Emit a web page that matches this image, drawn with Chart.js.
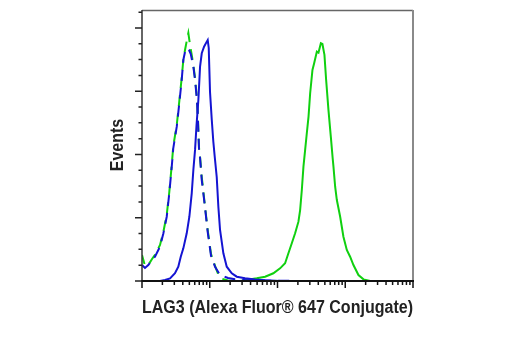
<!DOCTYPE html>
<html>
<head>
<meta charset="utf-8">
<script src="https://cdn.jsdelivr.net/npm/chart.js@4.4.0/dist/chart.umd.min.js"></script>
<style>
  body { margin: 0; background: #fff; }
  canvas { display: block; }
</style>
</head>
<body>
<canvas id="chart" width="520" height="350"></canvas>
<script>
// x is in decades of fluorescence (log10), y is events
var isoBlueX = [0, 0.044, 0.093, 0.148, 0.192, 0.266, 0.315, 0.365, 0.403, 0.439, 0.462, 0.513, 0.551, 0.586, 0.610, 0.635, 0.665, 0.694, 0.719, 0.758, 0.783, 0.808, 0.823, 0.832, 0.842, 0.857, 0.882, 0.931, 0.970, 1.019, 1.078, 1.152, 1.270, 1.373, 1.521, 1.743, 2.334, 4]
var isoBlueY = [12.6, 10.3, 12.6, 16.6, 19.2, 27.2, 37.5, 50.8, 69.4, 90.4, 105.1, 122.0, 140.7, 158.9, 174.7, 181.1, 184.2, 182.6, 179.5, 169.4, 158.9, 144.8, 131.3, 117.9, 103.5, 97.2, 79.8, 57.7, 38.7, 19.8, 11.3, 4.7, 2.4, 1.3, 0.8, 0.4, 0, 0]

var isoGreenX = [0, 0.044, 0.093, 0.148, 0.192, 0.266, 0.315, 0.365, 0.403, 0.439, 0.462, 0.513, 0.551, 0.586, 0.610, 0.635, 0.660, 0.684, 0.709, 0.734, 0.758, 0.783, 0.808, 0.823, 0.832, 0.842, 0.857, 0.882, 0.931, 0.970, 1.019, 1.078, 1.123, 1.182, 1.270, 1.448, 4]
var isoGreenY = [20.6, 11.9, 12.6, 17.4, 20.6, 28.5, 38.7, 52.2, 70.4, 91.7, 106.7, 123.3, 142.3, 160.5, 174.7, 182.6, 189.7, 196.0, 186.6, 178.7, 170.7, 160.5, 146.2, 132.8, 119.4, 105.1, 98.0, 82.2, 58.5, 40.3, 21.3, 11.9, 5.5, 1.6, 0.4, 0, 0]

var lag3BlueX = [0, 0.266, 0.340, 0.414, 0.487, 0.536, 0.572, 0.610, 0.660, 0.699, 0.734, 0.758, 0.783, 0.805, 0.832, 0.857, 0.882, 0.916, 0.956, 0.970, 0.985, 1.004, 1.030, 1.053, 1.071, 1.103, 1.127, 1.152, 1.201, 1.251, 1.325, 1.399, 1.521, 1.669, 1.817, 2.038, 4]
var lag3BlueY = [0, 0, 0.8, 2.1, 6.1, 11.3, 19.2, 25.8, 37.7, 50.8, 69.3, 87.7, 103.6, 123.3, 143.1, 169.4, 180.0, 185.2, 189.2, 190.5, 184.2, 149.4, 127.3, 110.1, 99.6, 82.2, 58.7, 40.3, 21.9, 11.3, 6.1, 3.4, 2.1, 1.2, 0.6, 0, 0]

var lag3GreenX = [0, 1.448, 1.694, 1.817, 1.939, 2.038, 2.112, 2.161, 2.211, 2.260, 2.309, 2.334, 2.359, 2.383, 2.408, 2.430, 2.458, 2.482, 2.516, 2.541, 2.581, 2.605, 2.640, 2.663, 2.693, 2.718, 2.752, 2.787, 2.814, 2.826, 2.851, 2.876, 2.925, 2.973, 3.023, 3.072, 3.121, 3.195, 3.269, 3.368, 4]
var lag3GreenY = [0, 0, 2.1, 3.4, 6.1, 10.0, 14.0, 21.9, 29.8, 37.7, 46.9, 56.1, 71.9, 90.4, 103.6, 115.4, 129.9, 148.4, 166.8, 172.1, 181.3, 180.5, 187.9, 187.3, 178.7, 158.9, 135.2, 114.1, 97.2, 90.4, 74.5, 64.0, 50.8, 35.0, 24.5, 19.2, 12.6, 4.7, 1.3, 0, 0]

var xMajorTicks = [0, 1, 2, 3, 4]
var yMajorTicks = [0, 50, 100, 150, 200]
var yMinorStep = 12.5
var xTitle = 'LAG3 (Alexa Fluor® 647 Conjugate)'
var yTitle = 'Events'

var blue = '#1414d2'
var green = '#10d010'

function toPoints(xs, ys) {
    var pts = []
    for (var i = 0; i < xs.length; i++) {
        pts.push({ x: xs[i], y: ys[i] })
    }
    return pts
}

function xMinorTicks() {
    var t = []
    for (var d = 0; d < 4; d++) {
        for (var k = 2; k <= 9; k++) { t.push(d + Math.log10(k)) }
    }
    return t
}

var frame = {
    id: 'frame',
    afterDatasetsDraw(chart) {
        var ctx = chart.ctx
        var a = chart.chartArea
        var xs = chart.scales.x
        var ys = chart.scales.y
        ctx.save()

        // top and right border, grey
        ctx.strokeStyle = '#666'
        ctx.lineWidth = 1.5
        ctx.beginPath()
        ctx.moveTo(a.left, a.top + 0.5)
        ctx.lineTo(a.right, a.top + 0.5)
        ctx.stroke()
        ctx.strokeStyle = '#8a8a8a'
        ctx.lineWidth = 2
        ctx.beginPath()
        ctx.moveTo(a.right, a.top)
        ctx.lineTo(a.right, a.bottom)
        ctx.stroke()

        // left and bottom axis
        ctx.strokeStyle = '#333'
        ctx.lineWidth = 1.5
        ctx.beginPath()
        ctx.moveTo(a.left, a.top)
        ctx.lineTo(a.left, a.bottom)
        ctx.stroke()
        ctx.strokeStyle = '#111'
        ctx.lineWidth = 2
        ctx.beginPath()
        ctx.moveTo(a.left - 1, a.bottom)
        ctx.lineTo(a.right + 1, a.bottom)
        ctx.stroke()

        // x ticks, pointing down
        ctx.lineWidth = 1.5
        ctx.strokeStyle = '#111'
        ctx.beginPath()
        xMajorTicks.forEach(function (v) {
            var p = xs.getPixelForValue(v)
            ctx.moveTo(p, a.bottom); ctx.lineTo(p, a.bottom + 7)
        })
        xMinorTicks().forEach(function (v) {
            var p = xs.getPixelForValue(v)
            ctx.moveTo(p, a.bottom); ctx.lineTo(p, a.bottom + 4)
        })
        ctx.stroke()

        // y ticks, pointing left
        ctx.strokeStyle = '#222'
        ctx.lineWidth = 1.5
        ctx.beginPath()
        for (var v = 0; v <= ys.max; v += yMinorStep) {
            var p = ys.getPixelForValue(v)
            var len = yMajorTicks.indexOf(v) >= 0 ? 7 : 3.5
            ctx.moveTo(a.left, p); ctx.lineTo(a.left - len, p)
        }
        ctx.stroke()

        // titles: no narrow font installed, so squeeze the bold sans to the plot width
        ctx.fillStyle = '#222'
        ctx.font = 'bold 18px "Liberation Sans", Arial, sans-serif'
        ctx.textAlign = 'center'
        ctx.textBaseline = 'alphabetic'
        var squeeze = (a.right - a.left) / ctx.measureText(xTitle).width
        ctx.save()
        ctx.translate((a.left + a.right) / 2, 313)
        ctx.scale(squeeze, 1)
        ctx.fillText(xTitle, 0, 0)
        ctx.restore()
        ctx.translate(123, 145)
        ctx.rotate(-Math.PI / 2)
        ctx.scale(squeeze, 1)
        ctx.fillText(yTitle, 0, 0)
        ctx.restore()
    }
}

function loadChart() {
    var ctx = document.getElementById('chart').getContext('2d')
    var lineBase = { pointRadius: 0, borderWidth: 2, tension: 0, fill: false }
    new Chart(ctx, {
        type: 'line',
        data: {
            datasets: [
                Object.assign({ label: 'LAG3 blue', data: toPoints(lag3BlueX, lag3BlueY), borderColor: blue, order: 0 }, lineBase),
                Object.assign({ label: 'Isotype blue', data: toPoints(isoBlueX, isoBlueY), borderColor: blue, borderDash: [11, 7], order: 1 }, lineBase),
                Object.assign({ label: 'Isotype green', data: toPoints(isoGreenX, isoGreenY), borderColor: green, borderDash: [11, 7], borderDashOffset: 1.5, order: 2 }, lineBase),
                Object.assign({ label: 'LAG3 green', data: toPoints(lag3GreenX, lag3GreenY), borderColor: green, order: 3 }, lineBase)
            ]
        },
        options: {
            responsive: false,
            animation: false,
            layout: { padding: { left: 142, right: 107, top: 10, bottom: 69 } },
            plugins: { legend: { display: false }, tooltip: { enabled: false } },
            scales: {
                x: { type: 'linear', min: 0, max: 4, display: false },
                y: { type: 'linear', min: 0, max: 214.2, display: false }
            }
        },
        plugins: [frame]
    })
}

document.addEventListener('DOMContentLoaded', () => {
    loadChart()
})
</script>
</body>
</html>
